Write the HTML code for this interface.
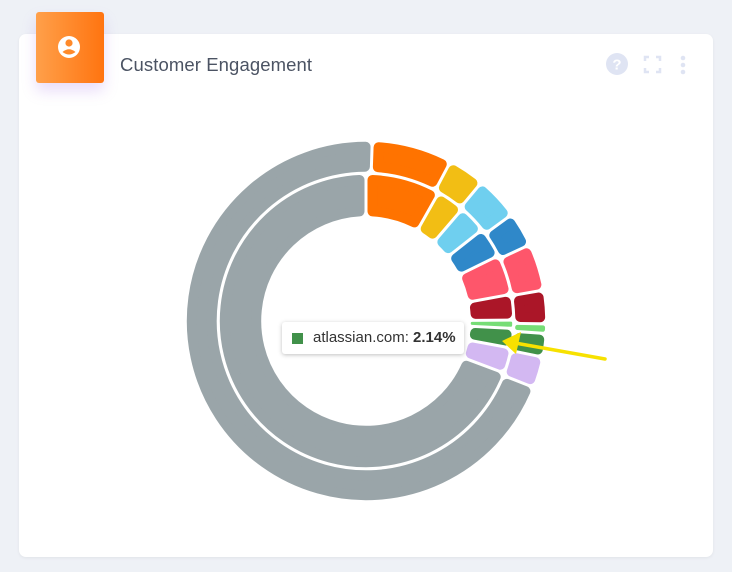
<!DOCTYPE html>
<html><head><meta charset="utf-8">
<style>
html,body{margin:0;padding:0;width:732px;height:572px;background:#eef1f6;overflow:hidden;font-family:"Liberation Sans",sans-serif;}
#card{position:absolute;left:19px;top:34px;width:694px;height:523px;background:#fff;border-radius:7px;box-shadow:0 1px 3px rgba(0,0,0,0.06);}
#badge{position:absolute;left:36px;top:12px;width:68px;height:71px;border-radius:3px;background:linear-gradient(90deg,#ffa04a,#ff7410);box-shadow:0 8px 14px rgba(170,120,230,0.25);}
#title{position:absolute;left:120px;top:54px;font-size:18.5px;color:#4b5363;letter-spacing:0.1px;}
#tip{position:absolute;left:282px;top:322px;width:182px;height:32px;background:#fff;border-radius:3px;box-shadow:0 1px 4px rgba(0,0,0,0.25);font-size:15px;color:#333;}
#tip .sq{position:absolute;left:10px;top:11px;width:11px;height:11px;background:#41914a;}
#tip .tx{position:absolute;left:31px;top:7px;white-space:nowrap;}
</style></head><body>
<div id="card"></div>
<div id="badge">
<svg width="68" height="71"><circle cx="33" cy="35" r="11" fill="#fff"/><circle cx="33" cy="31" r="3.6" fill="#ff8a2a"/><path d="M26.5 40 Q33 34.5 39.5 40 Q33 45 26.5 40Z" fill="#ff8a2a"/></svg>
</div>
<div id="title">Customer Engagement</div>
<svg style="position:absolute;left:605px;top:52px" width="90" height="26">
<g><circle cx="12" cy="12" r="11" fill="#dfe4f3"/><text x="12" y="17.5" text-anchor="middle" font-size="15" font-weight="bold" fill="#fff" font-family="Liberation Sans,sans-serif">?</text></g>
<g stroke="#dfe4f3" stroke-width="2.5" fill="none"><path d="M40 9V5h4M51 5h4v4M55 16v4h-4M44 20h-4v-4"/></g>
<g fill="#dfe4f3"><circle cx="78" cy="6" r="2.3"/><circle cx="78" cy="13" r="2.3"/><circle cx="78" cy="20" r="2.3"/></g>
</svg>
<svg id="chart" style="position:absolute;left:0;top:0" width="732" height="572"></svg>
<div id="tip"><div class="sq"></div><div class="tx">atlassian.com: <b>2.14%</b></div></div>
<svg style="position:absolute;left:0;top:0" width="732" height="572">
<line x1="605" y1="359" x2="515" y2="343" stroke="#f7e100" stroke-width="3.5" stroke-linecap="round"/>
<polygon points="502,341 521,332 516,354" fill="#f7e100"/>
</svg>
<script>
const categories=["orange","yellow","light-blue","blue","pink","dark-red","light-green","atlassian.com","lavender","other"];
const colors=["#ff7300","#f2be14","#6fcfef","#2f88c9","#fe566b","#ab1628","#76dd76","#41914a","#d3b8f2","#9aa5a9"];
const innerValues=[8.2,3.1,3.1,3.3,4.4,2.8,0.9,2.14,2.8,69.26];
const outerValues=[7.2,3.3,3.9,3.1,4.2,3.0,0.85,2.1,2.8,69.55];
const CX=366,CY=321;
const svg=document.getElementById('chart');
const NS='http://www.w3.org/2000/svg';
function pt(r,a){return [CX+r*Math.sin(a),CY-r*Math.cos(a)];}
function toAngle(v,total){return v/total*2*Math.PI;}
function ring(values,r0,r1,startDeg,name){
  const total=values.reduce((a,b)=>a+b,0);
  let a=startDeg*Math.PI/180;
  values.forEach((v,i)=>{
    const span=toAngle(v,total);
    const gap=1.5;
    let cr=Math.min(5,(span*r0)/2-gap-0.2,(r1-r0)/2-1);
    if(cr<0.3)cr=0.3;
    const ri=r0+cr+0.8, ro=r1-cr-0.8;
    const ai0=a+(gap+cr)/ri, ai1=a+span-(gap+cr)/ri;
    const ao0=a+(gap+cr)/ro, ao1=a+span-(gap+cr)/ro;
    const lo=(ao1-ao0)>Math.PI?1:0, li=(ai1-ai0)>Math.PI?1:0;
    const p1=pt(ro,ao0),p2=pt(ro,ao1),p3=pt(ri,ai1),p4=pt(ri,ai0);
    const d=`M${p1}A${ro},${ro} 0 ${lo} 1 ${p2}L${p3}A${ri},${ri} 0 ${li} 0 ${p4}Z`;
    const p=document.createElementNS(NS,'path');
    p.setAttribute('d',d);
    p.setAttribute('fill',colors[i]);
    p.setAttribute('stroke',colors[i]);
    p.setAttribute('stroke-width',2*cr);
    p.setAttribute('stroke-linejoin','round');
    
    
    svg.appendChild(p);
    a+=span;
  });
}
ring(innerValues,104,147,0,'inner-segment');
ring(outerValues,148.5,180,2,'outer-segment');
</script>
</body></html>
